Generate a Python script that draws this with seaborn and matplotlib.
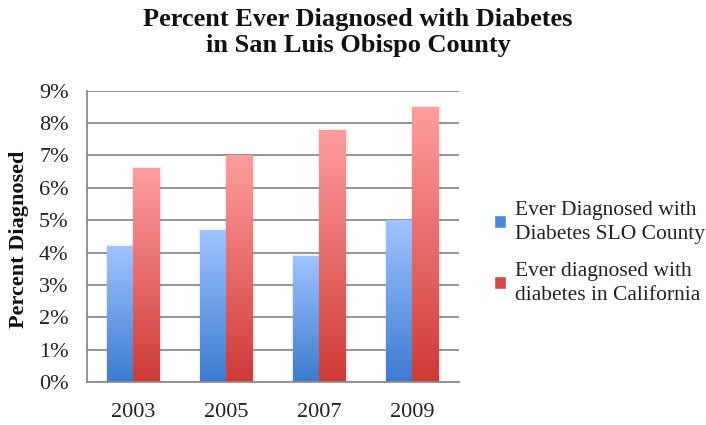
import numpy as np
import pandas as pd
import matplotlib
matplotlib.use("Agg")
import matplotlib.pyplot as plt
import matplotlib.patheffects as pe
from matplotlib.colors import LinearSegmentedColormap
from matplotlib.patches import Patch
import seaborn as sns

# Survey years and percent of adults ever diagnosed with diabetes
years = ["2003", "2005", "2007", "2009"]
slo_county = [4.2, 4.7, 3.9, 5.0]
california = [6.6, 7.0, 7.8, 8.5]
series_names = ["Ever Diagnosed with\nDiabetes SLO County",
                "Ever diagnosed with\ndiabetes in California"]
y_ticks = [0, 1, 2, 3, 4, 5, 6, 7, 8, 9]

df = pd.DataFrame({
    "Year": years * 2,
    "Percent": slo_county + california,
    "Series": [series_names[0]] * len(years) + [series_names[1]] * len(years),
})

sns.set_theme(style="white")
plt.rcParams["font.family"] = ["Liberation Serif", "DejaVu Serif"]

fig = plt.figure(figsize=(7.06, 4.25), dpi=100)
ax = fig.add_axes([0.1228, 0.1012, 0.5272, 0.6854])

# (top colour, bottom colour) of the vertical gradient for each series
gradients = [("#a0c4ff", "#3b7bd0"), ("#ff9e9e", "#cf3a36")]
solid = ["#4a88dc", "#d94a47"]

sns.barplot(data=df, x="Year", y="Percent", hue="Series", hue_order=series_names,
            palette=solid, width=0.573, saturation=1, ax=ax, legend=False)

ax.set_yticks(y_ticks)
ax.set_yticklabels([f"{t}%" for t in y_ticks])
ax.yaxis.grid(True, color="#8c8c8c", linewidth=1.3)
ax.set_axisbelow(True)
for side in ("top", "right"):
    ax.spines[side].set_visible(False)
for side in ("left", "bottom"):
    ax.spines[side].set_color("#8c8c8c")
    ax.spines[side].set_linewidth(1.3)

# Paint each bar with a vertical gradient clipped to the bar's own rectangle,
# leaving a faint soft halo around it
bars = [p for p in ax.patches if p.get_height() > 0]
n = len(years)
for i, bar in enumerate(bars):
    top_c, bot_c = gradients[i // n]
    cmap = LinearSegmentedColormap.from_list("g", [bot_c, top_c])
    x0, y0 = bar.get_x(), bar.get_y()
    w, h = bar.get_width(), bar.get_height()
    grad = np.linspace(0, 1, 256).reshape(-1, 1)
    im = ax.imshow(grad, cmap=cmap, aspect="auto", origin="lower",
                   extent=[x0, x0 + w, y0, y0 + h], zorder=2.5)
    im.set_clip_path(bar)
    bar.set_facecolor("none")
    bar.set_edgecolor("none")
    bar.set_zorder(2.2)
    bar.set_path_effects([pe.Stroke(linewidth=2.5, foreground="#888888", alpha=0.15)])
ax.set_xlim(-0.5, 3.5)
ax.set_ylim(0, 9)

ax.tick_params(axis="both", length=0, labelsize=16, colors="#222222")
ax.tick_params(axis="y", pad=13)
ax.tick_params(axis="x", pad=15)
ax.set_xlabel("")
ax.set_ylabel("")
fig.text(19 / 706, 1 - 239 / 425, "Percent Diagnosed", rotation=90,
         ha="center", va="center", fontsize=16, fontweight="bold", color="#111111")

fig.text(0.507, 0.982, "Percent Ever Diagnosed with Diabetes\nin San Luis Obispo County",
         ha="center", va="top", fontsize=19, fontweight="bold", color="#111111",
         linespacing=1.2)

handles = [Patch(facecolor=solid[0]), Patch(facecolor=solid[1])]
fig.legend(handles, series_names, loc="center left", bbox_to_anchor=(0.700, 0.405),
           frameon=False, fontsize=15.5, handlelength=0.55, handleheight=0.55,
           handletextpad=0.4, labelspacing=0.85, borderpad=0, borderaxespad=0,
           labelcolor="#222222")
for t in fig.legends[0].get_texts():
    t.set_linespacing(1.32)

fig.savefig("out.png", dpi=100)
